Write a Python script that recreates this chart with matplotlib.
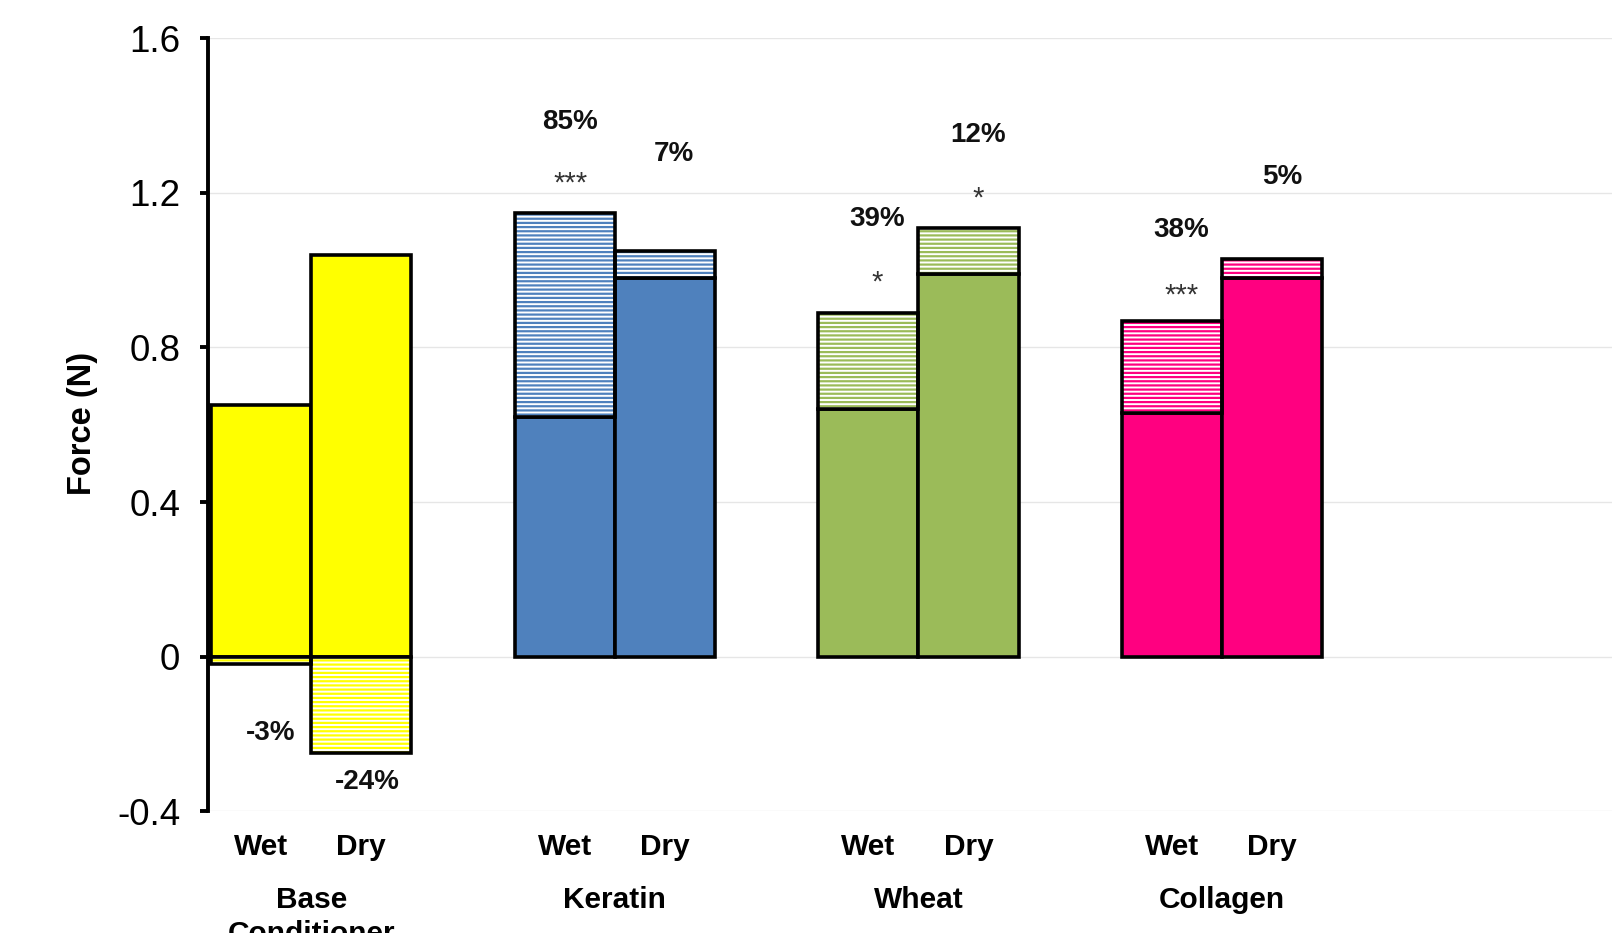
import matplotlib
matplotlib.use("Agg")
import matplotlib.pyplot as plt
import matplotlib.transforms as mtransforms
import numpy as np

# Treatment groups and measurement conditions
groups = ["Base\nConditioner", "Keratin", "Wheat", "Collagen"]
conditions = ["Wet", "Dry"]

# Reference force (N) for each group, and % change from the added treatment
wet_force = [0.65, 0.62, 0.64, 0.63]
dry_force = [1.04, 0.98, 0.99, 0.98]
wet_change_pct = [-3, 85, 39, 38]
dry_change_pct = [-24, 7, 12, 5]

# Significance markers
wet_signif = ["", "***", "*", "***"]
dry_signif = ["", "", "*", ""]

yticks = [-0.4, 0, 0.4, 0.8, 1.2, 1.6]
ytick_labels = ["-0.4", "0", "0.4", "0.8", "1.2", "1.6"]

colors = ["#FFFF00", "#4F81BD", "#9BBB59", "#FF0080"]

# Label placement (data units relative to the end of the change segment)
wet_label_dy = [-0.178, 0.236, 0.243, 0.235]
dry_label_dy = [-0.075, 0.252, 0.240, 0.213]
wet_star_dy = [0.0, 0.086, 0.086, 0.072]
dry_star_dy = [0.0, 0.0, 0.083, 0.0]
wet_label_dx = [0.03, 0.018, 0.028, 0.03]
dry_label_dx = [0.02, 0.028, 0.03, 0.032]

plt.rcParams["font.family"] = ["Liberation Sans", "DejaVu Sans"]
plt.rcParams["hatch.linewidth"] = 1.6

fig = plt.figure(figsize=(16.12, 9.33), dpi=100)
ax = fig.add_axes([0.129, 0.1305, 0.871, 0.8285])

bw = 0.33
edge_lw = 2.6
xg = np.arange(len(groups))

series = [
    (wet_force, wet_change_pct, wet_signif, wet_label_dy, wet_star_dy, wet_label_dx, -bw / 2),
    (dry_force, dry_change_pct, dry_signif, dry_label_dy, dry_star_dy, dry_label_dx, bw / 2),
]

for force, pct, sig, ldy, sdy, ldx, dx in series:
    for i in range(len(groups)):
        xi = xg[i] + dx
        base = force[i]
        change = base * pct[i] / 100.0
        # solid reference segment
        ax.bar(xi, base, bw, color=colors[i], edgecolor="black",
               linewidth=edge_lw, zorder=3)
        # hatched change segment: stacked on top if positive, below zero if negative
        bottom = base if change >= 0 else 0.0
        ax.bar(xi, change, bw, bottom=bottom, facecolor="white",
               edgecolor=colors[i], hatch="----", linewidth=0, zorder=3)
        ax.bar(xi, change, bw, bottom=bottom, fill=False, edgecolor="black",
               linewidth=edge_lw, zorder=4)
        end = base + change if change >= 0 else change
        ax.text(xi + ldx[i], end + ldy[i], f"{pct[i]}%",
                ha="center", va="center", fontsize=20, fontweight="bold",
                color="#111111", zorder=5)
        if sig[i]:
            ax.text(xi + ldx[i], end + sdy[i], sig[i], ha="center",
                    va="center_baseline", fontsize=21, color="#333333",
                    zorder=5)

ax.set_xlim(-0.34, 4.284)
ax.set_ylim(-0.4, 1.6)
ax.set_yticks(yticks)
ax.set_yticklabels(ytick_labels)
ax.set_xticks([])

ax.yaxis.grid(True, color="#E6E6E6", linewidth=1.0)
ax.set_axisbelow(True)

for side in ["top", "right", "bottom"]:
    ax.spines[side].set_visible(False)
ax.spines["left"].set_linewidth(2.8)
ax.tick_params(axis="y", length=6, width=2.8, pad=14, labelsize=26.5,
               colors="black")

# Category labels under the axis
trans = mtransforms.blended_transform_factory(ax.transData, fig.transFigure)
line_step = 34 / 933
for i, g in enumerate(groups):
    for cond, dx in zip(conditions, [-bw / 2, bw / 2]):
        ax.text(xg[i] + dx, (933 - 844) / 933, cond, transform=trans,
                ha="center", va="center_baseline", fontsize=21.5,
                fontweight="bold")
    for k, line in enumerate(g.split("\n")):
        ax.text(xg[i], (933 - 897) / 933 - k * line_step, line,
                transform=trans, ha="center", va="center_baseline",
                fontsize=21.5, fontweight="bold")

fig.text(82 / 1612, 0.546, "Force (N)", rotation=90, ha="center",
         va="center", fontsize=23.5, fontweight="bold")

fig.savefig("out.png", dpi=100)
